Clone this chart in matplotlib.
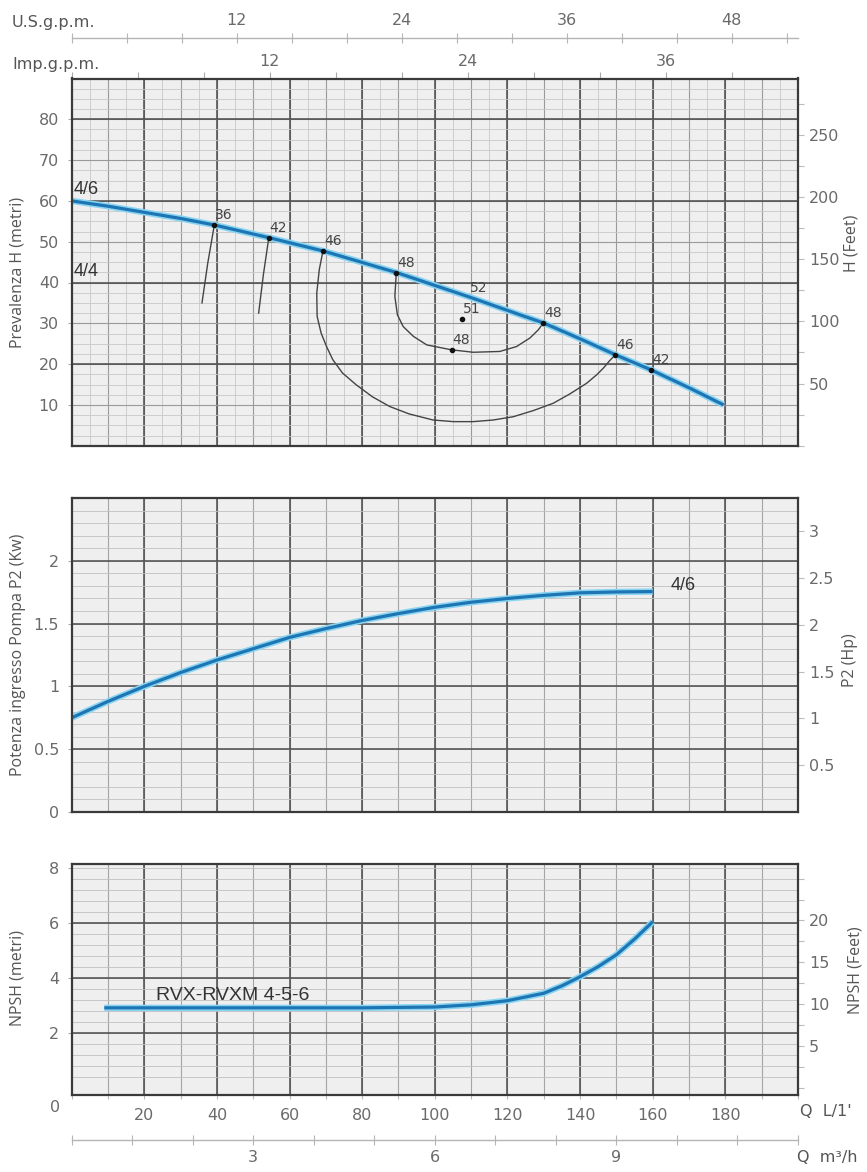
import numpy as np
import matplotlib
matplotlib.use("Agg")
import matplotlib.pyplot as plt
from matplotlib.ticker import MultipleLocator, FixedLocator

# Head curve (Q in L/min, H in m)
q_head = [0, 10, 20, 30, 39.3, 54.3, 69.4, 89.6, 110, 123.4, 129.9, 140, 149.7, 159.5, 170, 179.5]
h_head = [60, 58.7, 57.2, 55.7, 54.1, 51.0, 47.7, 42.4, 36.3, 32.1, 30.1, 26.2, 22.3, 18.6, 14.2, 10]

# iso-efficiency lines
eff36_q = [39.3, 37.5, 35.9]
eff36_h = [54.1, 44.8, 35.0]
eff42_q = [54.3, 52.8, 51.5]
eff42_h = [51.0, 41.9, 32.5]
eff46_q = [69.2, 68.2, 67.5, 67.6, 68.7, 70.2, 71.9, 74.6, 78.4, 82.8, 87.6, 92.9, 99.5,
           105.1, 110.6, 116.1, 121.6, 127.1, 132.6, 137.2, 141.8, 144.6, 146.4, 148.2, 149.7]
eff46_h = [47.7, 43.2, 37.4, 31.7, 27.6, 24.3, 21.1, 17.8, 14.9, 12.0, 9.6, 7.8, 6.3,
           5.9, 5.9, 6.3, 7.1, 8.6, 10.4, 12.7, 15.3, 17.4, 19.0, 20.9, 22.3]
eff48_q = [89.4, 89.0, 89.7, 91.3, 94.1, 97.8, 104.6, 110.6, 117.9, 122.5, 126.2, 128.5, 129.9]
eff48_h = [42.4, 36.6, 32.1, 29.2, 26.8, 24.7, 23.5, 22.9, 23.1, 24.3, 26.4, 28.4, 30.1]

# marked points and their efficiency labels
pt_q = [39.3, 54.3, 69.2, 89.4, 104.6, 107.4, 129.9, 149.7, 159.5]
pt_h = [54.1, 51.0, 47.7, 42.4, 23.5, 31.1, 30.1, 22.3, 18.6]
pt_lbl = ["36", "42", "46", "48", "48", "51", "48", "46", "42"]

# Power P2 (kW)
q_p2 = [0, 10, 20, 30, 40, 50, 60, 70, 80, 90, 100, 110, 120, 130, 140, 150, 160]
p2 = [0.75, 0.88, 1.0, 1.11, 1.21, 1.30, 1.39, 1.46, 1.525, 1.58, 1.63, 1.67, 1.70,
      1.725, 1.745, 1.752, 1.755]

# NPSH (m)
q_npsh = [9, 40, 80, 100, 110, 120, 130, 135, 140, 145, 150, 155, 160]
npsh = [2.92, 2.92, 2.92, 2.95, 3.03, 3.18, 3.45, 3.72, 4.05, 4.42, 4.85, 5.42, 6.05]

q_ticks = [20, 40, 60, 80, 100, 120, 140, 160, 180]

W, H = 867, 1172
fig = plt.figure(figsize=(W / 100, H / 100), dpi=100)

X0, X1 = 71.6, 798
TICKF = "DejaVu Sans"
TICKC = "#6a6a6a"
TS = 11.5


def rect(top, bot):
    return [X0 / W, 1 - bot / H, (X1 - X0) / W, (bot - top) / H]


def grid_lines(ax, axis, step, lo, hi, color, lw):
    for v in np.arange(lo, hi + 1e-9, step):
        if axis == "x":
            ax.axvline(v, color=color, lw=lw, zorder=0.5)
        else:
            ax.axhline(v, color=color, lw=lw, zorder=0.5)


def base(ax, ylim):
    ax.set_xlim(0, 200)
    ax.set_ylim(*ylim)
    ax.set_facecolor("#efefef")
    for s in ax.spines.values():
        s.set_color("#3a3a3a")
        s.set_linewidth(1.6)
        s.set_zorder(5)
    ax.tick_params(axis="y", direction="out", length=3, width=0.8, color="#aaaaaa",
                   labelcolor=TICKC, labelsize=TS, pad=6)
    ax.tick_params(axis="x", bottom=False, labelbottom=False)


def curve(ax, x, y):
    ax.plot(x, y, color="#8ad4f2", lw=4.6, solid_capstyle="butt", zorder=3)
    ax.plot(x, y, color="#1d76b3", lw=2.3, solid_capstyle="butt", zorder=3.1)


def right_axis(ax, f, inv, major, minor=None):
    sec = ax.secondary_yaxis("right", functions=(f, inv))
    sec.yaxis.set_major_locator(FixedLocator(major))
    if minor:
        sec.yaxis.set_minor_locator(MultipleLocator(minor))
    sec.spines["right"].set_visible(False)
    sec.tick_params(which="both", direction="out", length=4, width=0.8, color="#bbbbbb",
                    labelcolor=TICKC, labelsize=TS, pad=4)
    return sec


# ---------------- head panel ----------------
ax1 = fig.add_axes(rect(78.5, 445.7))
ax1.set_yticks([10, 20, 30, 40, 50, 60, 70, 80])
base(ax1, (0, 90))
grid_lines(ax1, "x", 5, 5, 195, "#c8c8c8", 0.6)
grid_lines(ax1, "x", 10, 10, 190, "#9a9a9a", 0.8)
grid_lines(ax1, "x", 20, 20, 180, "#4a4a4a", 1.1)
grid_lines(ax1, "y", 2.5, 2.5, 87.5, "#c8c8c8", 0.6)
grid_lines(ax1, "y", 10, 10, 80, "#9a9a9a", 0.8)
grid_lines(ax1, "y", 20, 20, 80, "#4a4a4a", 1.1)

for qq, hh in [(eff36_q, eff36_h), (eff42_q, eff42_h), (eff46_q, eff46_h), (eff48_q, eff48_h)]:
    ax1.plot(qq, hh, color="#444444", lw=1.0, zorder=2)
curve(ax1, q_head, h_head)
ax1.plot(pt_q, pt_h, "o", color="#111111", ms=3, zorder=4)
for q, h, s in zip(pt_q, pt_h, pt_lbl):
    ax1.annotate(s, (q, h), xytext=(7, 7), textcoords="offset points", ha="center",
                 va="center", fontsize=10, color="#444444", zorder=6)
ax1.annotate("52", (112, 38.7), ha="center", va="center", fontsize=10,
             color="#444444", zorder=6)
ax1.text(0.5, 62.8, "4/6", fontsize=13, color="#333333", family="Liberation Sans",
         ha="left", va="center", zorder=6)
ax1.text(0.5, 42.7, "4/4", fontsize=13, color="#333333", family="Liberation Sans",
         ha="left", va="center", zorder=6)

right_axis(ax1, lambda m: m * 3.28084, lambda f: f / 3.28084, [50, 100, 150, 200, 250], 25)

imp = ax1.secondary_xaxis("top", functions=(lambda l: l / 4.54609, lambda g: g * 4.54609))
imp.xaxis.set_major_locator(FixedLocator([12, 24, 36]))
imp.xaxis.set_minor_locator(MultipleLocator(4))
imp.spines["top"].set_visible(False)
imp.tick_params(which="both", direction="out", length=4, width=0.8, color="#aaaaaa",
                labelcolor=TICKC, labelsize=TS, pad=3)

usg = ax1.secondary_xaxis(1.1095, functions=(lambda l: l / 3.78541, lambda g: g * 3.78541))
usg.xaxis.set_major_locator(FixedLocator([12, 24, 36, 48]))
usg.xaxis.set_minor_locator(MultipleLocator(4))
usg.spines["top"].set_color("#b5b5b5")
usg.spines["top"].set_linewidth(1.0)
usg.tick_params(which="both", direction="inout", length=7, width=0.8, color="#b5b5b5",
                labelcolor=TICKC, labelsize=TS, pad=4)

fig.text(12 / W, 1 - 22 / H, "U.S.g.p.m.", fontsize=TS, color="#555555", family=TICKF,
         ha="left", va="center")
fig.text(12 / W, 1 - 64 / H, "Imp.g.p.m.", fontsize=TS, color="#555555", family=TICKF,
         ha="left", va="center")

# ---------------- power panel ----------------
ax2 = fig.add_axes(rect(498, 812))
ax2.set_yticks([0, 0.5, 1, 1.5, 2])
ax2.set_yticklabels(["0", "0.5", "1", "1.5", "2"])
base(ax2, (0, 2.5))
grid_lines(ax2, "x", 10, 10, 190, "#a5a5a5", 0.8)
grid_lines(ax2, "x", 20, 20, 180, "#4a4a4a", 1.1)
grid_lines(ax2, "y", 0.1, 0.1, 2.4, "#c0c0c0", 0.6)
grid_lines(ax2, "y", 0.5, 0.5, 2.0, "#4a4a4a", 1.1)
curve(ax2, q_p2, p2)
ax2.text(164.8, 1.80, "4/6", fontsize=13, color="#333333", family="Liberation Sans",
         ha="left", va="center", zorder=6)
sec2 = right_axis(ax2, lambda k: k / 0.7457, lambda hp: hp * 0.7457, [0.5, 1, 1.5, 2, 2.5, 3])
sec2.set_yticklabels(["0.5", "1", "1.5", "2", "2.5", "3"])

# ---------------- NPSH panel ----------------
ax3 = fig.add_axes(rect(864, 1095))
ax3.set_yticks([2, 4, 6, 8])
base(ax3, (-0.25, 8.15))
grid_lines(ax3, "x", 10, 10, 190, "#a5a5a5", 0.8)
grid_lines(ax3, "x", 20, 20, 180, "#4a4a4a", 1.1)
grid_lines(ax3, "y", 0.4, 0.4, 8.0, "#c0c0c0", 0.6)
grid_lines(ax3, "y", 2, 2, 6, "#4a4a4a", 1.1)
curve(ax3, q_npsh, npsh)
ax3.text(23.2, 3.38, "RVX-RVXM 4-5-6", fontsize=14, color="#333333",
         family="Liberation Sans", ha="left", va="center", zorder=6)
right_axis(ax3, lambda m: m * 3.28084, lambda f: f / 3.28084, [5, 10, 15, 20], 2.5)

ax3.set_xticks(q_ticks)
ax3.xaxis.set_minor_locator(MultipleLocator(10))
ax3.tick_params(axis="x", which="both", bottom=True, labelbottom=True, direction="out",
                length=3, width=0.8, color="#bbbbbb", labelcolor=TICKC, labelsize=TS, pad=6)

m3h = ax3.secondary_xaxis(-0.195, functions=(lambda l: l * 0.06, lambda m: m / 0.06))
m3h.xaxis.set_major_locator(FixedLocator([3, 6, 9]))
m3h.xaxis.set_minor_locator(MultipleLocator(1))
m3h.spines["bottom"].set_color("#b5b5b5")
m3h.spines["bottom"].set_linewidth(1.0)
m3h.tick_params(which="both", direction="inout", length=7, width=0.8, color="#b5b5b5",
                labelcolor=TICKC, labelsize=TS, pad=4)

fig.text(55 / W, 1 - 1108 / H, "0", fontsize=TS, color=TICKC, family=TICKF,
         ha="center", va="center")
fig.text(800 / W, 1 - 1112 / H, "Q  L/1'", fontsize=TS, color="#555555", family=TICKF,
         ha="left", va="center")
fig.text(797 / W, 1 - 1157 / H, "Q  m³/h", fontsize=TS, color="#555555", family=TICKF,
         ha="left", va="center")

# axis titles
lab = dict(fontsize=11.5, color="#555555", family=["Open Sans", "DejaVu Sans"],
           rotation=90, ha="center", va="center")
fig.text(18 / W, 1 - 272 / H, "Prevalenza H (metri)", **lab)
fig.text(18 / W, 1 - 655 / H, "Potenza ingresso Pompa P2 (Kw)", **lab)
fig.text(18 / W, 1 - 978 / H, "NPSH (metri)", **lab)
fig.text(852 / W, 1 - 243 / H, "H (Feet)", **lab)
fig.text(850 / W, 1 - 660 / H, "P2 (Hp)", **lab)
fig.text(855 / W, 1 - 970 / H, "NPSH (Feet)", **lab)

fig.savefig("out.png", dpi=100, facecolor="white")
